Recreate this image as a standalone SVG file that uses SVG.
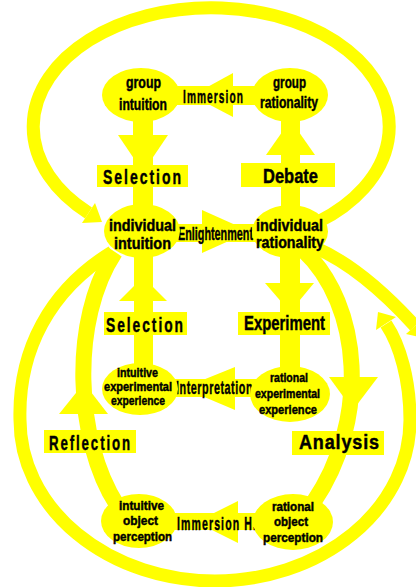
<svg xmlns="http://www.w3.org/2000/svg" width="416" height="587" viewBox="0 0 416 587">
  <style>
    .band { fill: #ffff00; }
    .loop { fill: none; stroke: #ffff00; stroke-width: 13; }
    .arc { fill: none; stroke: #ffff00; stroke-width: 16; }
    .node { fill: #ffff00; }
    text { font-family: "Liberation Sans", Arial, sans-serif; font-weight: bold; fill: #000; stroke: #000; stroke-width: 0.45; }
    .big { font-size: 16px; }
    .small { font-size: 12.5px; }
    .verb { font-size: 19px; }
    .tag { font-size: 21px; }
  </style>
  <rect width="416" height="587" fill="#ffffff"/>

  <g id="connectors">
    <!-- outer loop over the top: individual rationality back to individual intuition -->
    <path class="loop" d="M 318 222 A 178 119 0 1 0 88.5 213"/>
    <polygon class="band" points="82,223 95,203 102,222"/>

    <!-- outer loop under the bottom: individual intuition round to the right side -->
    <path class="loop" d="M 112 252 C 50 290 18 350 20 420 A 195 161 0 0 0 410 420 C 410 380 400 345 386 324"/>
    <polygon class="band" points="376,330 396,317 378,312"/>

    <!-- individual rationality out to the right edge -->
    <path class="loop" d="M 316 248 Q 362 268 415 326"/>
    <polygon class="band" points="406,334 424,318 424,338"/>

    <!-- Reflection: intuitive object perception up to individual intuition -->
    <path class="arc" d="M 117 505 C 75 440 70 320 115 252"/>
    <polygon class="band" points="59,414 108,414 84,383"/>

    <!-- Analysis: individual rationality down to rational object perception -->
    <path class="arc" d="M 303 250 C 362 305 370 420 313 503"/>
    <polygon class="band" points="329,377 378,377 353,410"/>

    <!-- vertical block arrows -->
    <rect class="band" x="133" y="110" width="20" height="125"/>
    <polygon class="band" points="118,135 168,135 143,172"/>
    <rect class="band" x="281" y="110" width="19" height="125"/>
    <polygon class="band" points="266,155 315,155 290.5,120"/>
    <rect class="band" x="134" y="231" width="19" height="158"/>
    <polygon class="band" points="119,301 167,301 143,277"/>
    <rect class="band" x="280" y="231" width="20" height="163"/>
    <polygon class="band" points="265,283 314,283 290,312"/>

    <!-- horizontal block arrows -->
    <rect class="band" x="141" y="86" width="149" height="19"/>
    <polygon class="band" points="233,73 233,117 192,95.5"/>
    <rect class="band" x="142" y="224" width="148" height="18"/>
    <polygon class="band" points="202,210 202,253 250,231.5"/>
    <rect class="band" x="140" y="379" width="150" height="18"/>
    <polygon class="band" points="235,367 235,410 183,388"/>
    <rect class="band" x="139" y="513" width="154" height="17"/>
    <polygon class="band" points="238,501 238,543 196,522"/>

    <!-- arrow labels -->
    <text class="verb" x="183" y="103" textLength="61" lengthAdjust="spacingAndGlyphs" letter-spacing="2">Immersion</text>
    <text class="verb" x="178" y="240" textLength="75" lengthAdjust="spacingAndGlyphs">Enlightenment</text>
    <text class="verb" x="176" y="394" font-size="20" textLength="77" lengthAdjust="spacingAndGlyphs" letter-spacing="1">Interpretation</text>
    <text class="verb" x="177" y="530" font-size="22" textLength="80" lengthAdjust="spacingAndGlyphs" letter-spacing="2">Immersion H.</text>

    <rect class="band" x="97" y="165" width="91" height="22"/>
    <text class="tag" x="103" y="184" textLength="80" lengthAdjust="spacingAndGlyphs" letter-spacing="3">Selection</text>
    <rect class="band" x="241" y="163" width="94" height="24"/>
    <text class="tag" x="263" y="183" textLength="55" lengthAdjust="spacingAndGlyphs">Debate</text>
    <rect class="band" x="104" y="312" width="83" height="23"/>
    <text class="tag" x="106" y="332" textLength="79" lengthAdjust="spacingAndGlyphs" letter-spacing="3">Selection</text>
    <rect class="band" x="238" y="312" width="92" height="23"/>
    <text class="tag" x="244" y="330" font-size="19" textLength="81" lengthAdjust="spacingAndGlyphs">Experiment</text>
    <rect class="band" x="44" y="430" width="92" height="23"/>
    <text class="tag" x="49" y="450" font-size="22" textLength="83" lengthAdjust="spacingAndGlyphs" letter-spacing="3">Reflection</text>
    <rect class="band" x="292" y="431" width="92" height="24"/>
    <text class="tag" x="299" y="449" font-size="19" textLength="81" lengthAdjust="spacingAndGlyphs" letter-spacing="1">Analysis</text>
  </g>

  <g id="group-intuition">
    <ellipse class="node" cx="141" cy="95" rx="39" ry="27"/>
    <text class="big" x="126" y="88" textLength="35" lengthAdjust="spacingAndGlyphs">group</text>
    <text class="big" x="119" y="110" textLength="48" lengthAdjust="spacingAndGlyphs">intuition</text>
  </g>
  <g id="group-rationality">
    <ellipse class="node" cx="290" cy="95" rx="38" ry="27"/>
    <text class="big" x="273" y="88" textLength="33" lengthAdjust="spacingAndGlyphs">group</text>
    <text class="big" x="260" y="108" textLength="58" lengthAdjust="spacingAndGlyphs">rationality</text>
  </g>
  <g id="individual-intuition">
    <ellipse class="node" cx="142" cy="231" rx="38" ry="27"/>
    <text class="big" x="109" y="231" textLength="67" lengthAdjust="spacingAndGlyphs">individual</text>
    <text class="big" x="114" y="249" textLength="57" lengthAdjust="spacingAndGlyphs">intuition</text>
  </g>
  <g id="individual-rationality">
    <ellipse class="node" cx="290" cy="231.5" rx="38" ry="26.5"/>
    <text class="big" x="256" y="231" textLength="67" lengthAdjust="spacingAndGlyphs">individual</text>
    <text class="big" x="256" y="248" textLength="68" lengthAdjust="spacingAndGlyphs">rationality</text>
  </g>
  <g id="intuitive-experimental-experience">
    <ellipse class="node" cx="140" cy="389" rx="38" ry="26"/>
    <text class="small" x="117" y="377" textLength="41" lengthAdjust="spacingAndGlyphs">intuitive</text>
    <text class="small" x="104" y="391" textLength="68" lengthAdjust="spacingAndGlyphs">experimental</text>
    <text class="small" x="111" y="405" textLength="54" lengthAdjust="spacingAndGlyphs">experience</text>
  </g>
  <g id="rational-experimental-experience">
    <ellipse class="node" cx="290" cy="394" rx="40" ry="28"/>
    <text class="small" x="270" y="382" textLength="38" lengthAdjust="spacingAndGlyphs">rational</text>
    <text class="small" x="255" y="398" textLength="65" lengthAdjust="spacingAndGlyphs">experimental</text>
    <text class="small" x="259" y="414" textLength="58" lengthAdjust="spacingAndGlyphs">experience</text>
  </g>
  <g id="intuitive-object-perception">
    <ellipse class="node" cx="139" cy="521" rx="38" ry="27"/>
    <text class="small" x="119" y="510" textLength="45" lengthAdjust="spacingAndGlyphs">intuitive</text>
    <text class="small" x="123" y="525" textLength="35" lengthAdjust="spacingAndGlyphs">object</text>
    <text class="small" x="113" y="541" textLength="59" lengthAdjust="spacingAndGlyphs">perception</text>
  </g>
  <g id="rational-object-perception">
    <ellipse class="node" cx="293" cy="522" rx="40" ry="28"/>
    <text class="small" x="272" y="511" textLength="42" lengthAdjust="spacingAndGlyphs">rational</text>
    <text class="small" x="274" y="526" textLength="34" lengthAdjust="spacingAndGlyphs">object</text>
    <text class="small" x="263" y="542" textLength="60" lengthAdjust="spacingAndGlyphs">perception</text>
  </g>
</svg>
